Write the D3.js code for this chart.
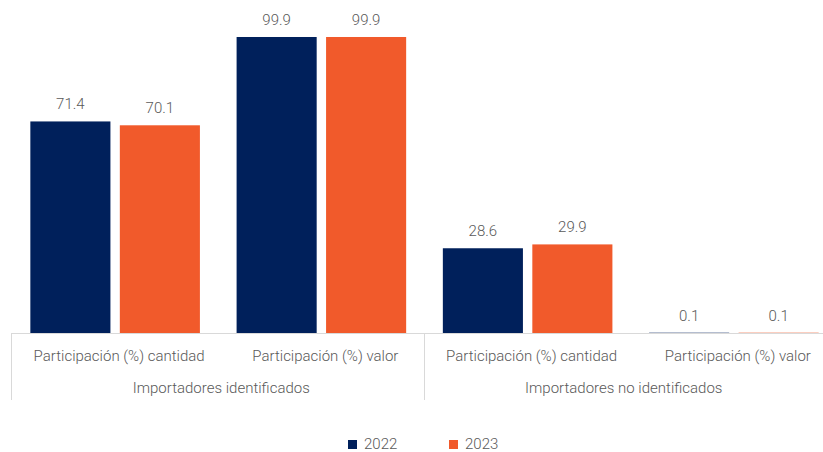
<!DOCTYPE html>
<html>
<head>
<meta charset="utf-8">
<script src="https://cdn.jsdelivr.net/npm/d3@7"></script>
<style>
  body { margin: 0; background: #fff; }
  text { font-family: Roboto, "Noto Sans", sans-serif; font-weight: 300; fill: #595959; }
</style>
</head>
<body>
<svg width="823" height="452"></svg>
<script>
// data
var categories = ["Participación (%) cantidad", "Participación (%) valor",
                  "Participación (%) cantidad", "Participación (%) valor"];
var groups = ["Importadores identificados", "Importadores no identificados"];
var years = ["2022", "2023"];
var values2022 = [71.4, 99.9, 28.6, 0.1];
var values2023 = [70.1, 99.9, 29.9, 0.1];
var colors = ["#00205B", "#F15A2B"];

var svg = d3.select("svg"),
    width = +svg.attr("width"),
    height = +svg.attr("height");

var baseY = 333;

var rows = categories.map((c, i) => ({ key: i, cat: c, vals: [values2022[i], values2023[i]] }));

var x0 = d3.scaleBand()
    .domain(rows.map(d => d.key))
    .range([12, 837])
    .paddingInner(0)
    .paddingOuter(0);

var x1 = d3.scaleBand()
    .domain(years)
    .range([0, x0.bandwidth()])
    .paddingInner(0.105)
    .paddingOuter(0.205);

var y = d3.scaleLinear()
    .domain([0, 100])
    .range([baseY, baseY - 296.3]);

var g = svg.append("g");

var cat = g.selectAll(".cat")
    .data(rows)
    .enter().append("g")
    .attr("class", "cat")
    .attr("transform", d => "translate(" + x0(d.key) + ",0)");

var bars = cat.selectAll("g.bar")
    .data(d => d.vals.map((v, j) => ({ year: years[j], v: v, j: j })))
    .enter().append("g")
    .attr("class", "bar");

bars.append("rect")
    .attr("x", d => x1(d.year))
    .attr("y", d => y(d.v))
    .attr("width", x1.bandwidth())
    .attr("height", d => baseY - y(d.v))
    .attr("fill", d => colors[d.j]);

bars.append("text")
    .attr("x", d => x1(d.year) + x1.bandwidth() / 2)
    .attr("y", d => y(d.v) - 12)
    .attr("text-anchor", "middle")
    .style("font-size", "15px")
    .text(d => d.v.toFixed(1));

// axis line
g.append("line")
    .attr("x1", 12).attr("x2", width)
    .attr("y1", baseY + 0.5).attr("y2", baseY + 0.5)
    .style("stroke", "#d9d9d9");

// group separators
[0, 2].forEach(function(i) {
  var xx = Math.round(x0(i)) - 0.5;
  g.append("line")
    .attr("x1", xx).attr("x2", xx)
    .attr("y1", baseY).attr("y2", 400)
    .style("stroke", "#d9d9d9");
});

// category labels
cat.append("text")
    .attr("x", x0.bandwidth() / 2 + 4)
    .attr("y", 361)
    .attr("text-anchor", "middle")
    .style("font-size", "15px")
    .text(d => d.cat);

// group labels
var groupCenters = [
  (x0(0) + x0(2)) / 2 + 3,
  (x0(2) + width) / 2
];
groups.forEach(function(name, i) {
  g.append("text")
    .attr("x", groupCenters[i])
    .attr("y", 393)
    .attr("text-anchor", "middle")
    .style("font-size", "15px")
    .text(name);
});

// legend
var legend = svg.append("g")
    .attr("transform", "translate(348,440)");

var item = legend.selectAll(".item")
    .data(years)
    .enter().append("g")
    .attr("class", "item")
    .attr("transform", (d, i) => "translate(" + (i * 101) + ",0)");

item.append("rect")
    .attr("width", 9).attr("height", 9)
    .attr("fill", (d, i) => colors[i]);

item.append("text")
    .attr("x", 16)
    .attr("y", 9)
    .style("font-size", "15px")
    .text(d => d);
</script>
</body>
</html>
